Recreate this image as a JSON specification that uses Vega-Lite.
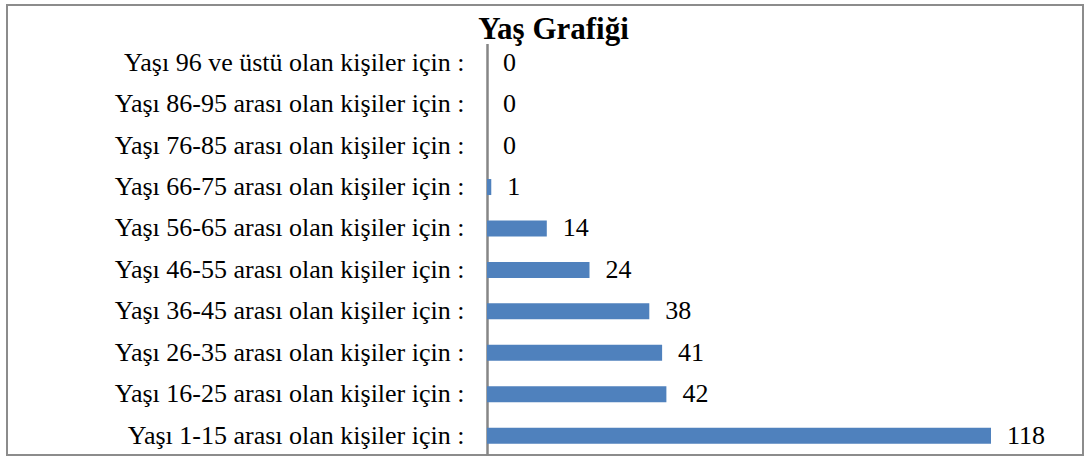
{
  "$schema": "https://vega.github.io/schema/vega-lite/v6.json",
  "width": 1076,
  "height": 450,
  "autosize": {"type": "none"},
  "padding": {"left": 7, "top": 5, "right": 5, "bottom": 5},
  "background": "white",
  "config": {"view": {"stroke": "#8c8c8c", "strokeWidth": 2}},
  "data": {
    "values": [
      {"group": "Yaşı 96 ve üstü olan kişiler için :", "count": 0},
      {"group": "Yaşı 86-95 arası olan kişiler için :", "count": 0},
      {"group": "Yaşı 76-85 arası olan kişiler için :", "count": 0},
      {"group": "Yaşı 66-75 arası olan kişiler için :", "count": 1},
      {"group": "Yaşı 56-65 arası olan kişiler için :", "count": 14},
      {"group": "Yaşı 46-55 arası olan kişiler için :", "count": 24},
      {"group": "Yaşı 36-45 arası olan kişiler için :", "count": 38},
      {"group": "Yaşı 26-35 arası olan kişiler için :", "count": 41},
      {"group": "Yaşı 16-25 arası olan kişiler için :", "count": 42},
      {"group": "Yaşı 1-15 arası olan kişiler için :", "count": 118}
    ]
  },
  "encoding": {
    "y": {
      "field": "group",
      "type": "nominal",
      "sort": null,
      "scale": {"range": [38.4, 450], "paddingInner": 0.614, "paddingOuter": 0.273},
      "axis": {
        "title": null,
        "offset": -480,
        "ticks": false,
        "grid": false,
        "domainColor": "#868686",
        "domainWidth": 2.5,
        "labelFont": "Liberation Serif",
        "labelFontSize": 26,
        "labelColor": "black",
        "labelPadding": 23,
        "labelLimit": 0
      }
    },
    "x": {
      "field": "count",
      "type": "quantitative",
      "scale": {"domain": [-112.38, 139.54], "nice": false, "zero": false},
      "axis": {
        "orient": "top",
        "offset": -38,
        "labels": false,
        "ticks": false,
        "domain": false,
        "grid": false,
        "title": "Yaş Grafiği",
        "titleFont": "Liberation Serif",
        "titleFontSize": 31,
        "titleFontWeight": "bold",
        "titleColor": "black",
        "titleAlign": "center",
        "titleBaseline": "alphabetic",
        "titleAnchor": "start",
        "titleX": 546,
        "titleY": -5
      }
    }
  },
  "layer": [
    {
      "mark": {"type": "bar", "color": "#4F81BD"},
      "encoding": {"x2": {"datum": 0}}
    },
    {
      "mark": {
        "type": "text",
        "align": "left",
        "baseline": "middle",
        "dx": 16,
        "font": "Liberation Serif",
        "fontSize": 26,
        "color": "black"
      },
      "encoding": {"text": {"field": "count", "type": "quantitative"}}
    }
  ]
}
